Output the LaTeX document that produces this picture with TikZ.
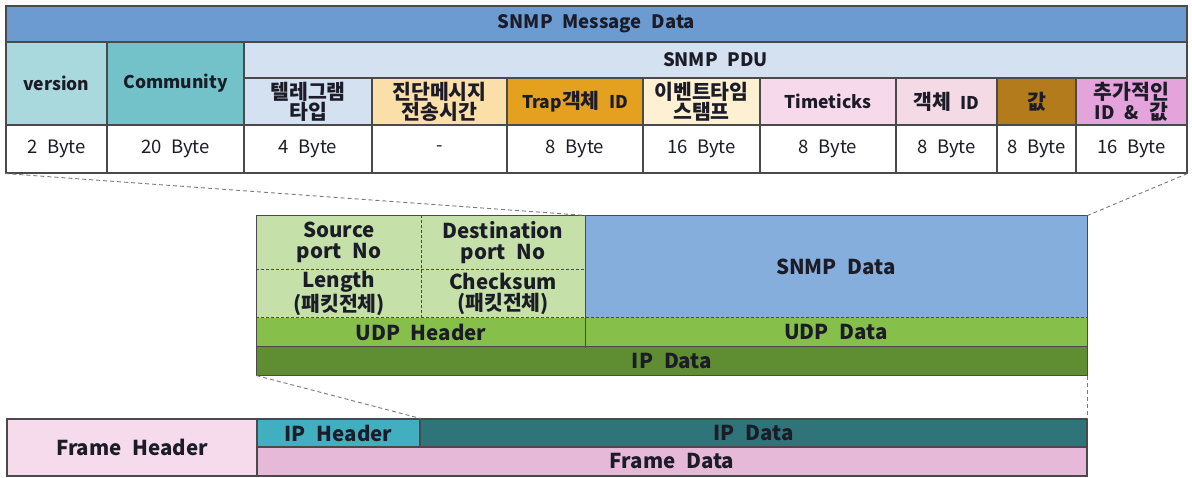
\documentclass[tikz,border=0pt]{standalone}
\usepackage{fontspec}
\setmainfont[WordSpace=2.3]{Noto Sans CJK KR}
\usetikzlibrary{calc}
\definecolor{titleblue}{HTML}{6B9BD1}
\definecolor{pdublue}{HTML}{D4E1F1}
\definecolor{vercol}{HTML}{A9D9DD}
\definecolor{comcol}{HTML}{73C2C9}
\definecolor{telcol}{HTML}{D4E1F1}
\definecolor{diagcol}{HTML}{FBDFA8}
\definecolor{trapcol}{HTML}{E4A11F}
\definecolor{evtcol}{HTML}{FDF0D3}
\definecolor{tickcol}{HTML}{F6DAEC}
\definecolor{objcol}{HTML}{F3DAE4}
\definecolor{valcol}{HTML}{B37B1B}
\definecolor{addcol}{HTML}{E4A3DA}
\definecolor{udphl}{HTML}{C5E1A9}
\definecolor{snmpd}{HTML}{86AEDC}
\definecolor{udpg}{HTML}{86C04B}
\definecolor{ipg}{HTML}{5F8D31}
\definecolor{framehd}{HTML}{F5DBEB}
\definecolor{iph}{HTML}{42AFC1}
\definecolor{ipdt}{HTML}{2F7479}
\definecolor{framed}{HTML}{E7B9D9}
\definecolor{linegray}{HTML}{4A4A4A}
\definecolor{dashgray}{HTML}{7A7A7A}
\definecolor{txt}{HTML}{1C1C28}
\newcommand\cellbox[8][]{%
  \node[cellst,#1,fill=#7,minimum width={(#4-#2)*1pt},minimum height={(#5-#3)*1pt}]
    (#6) at ({(#2+#4)/2},{(#3+#5)/2}) {#8};}
\newcommand\hk[1]{{\fontsize{20.5}{20}\selectfont #1}}
\begin{document}
\begin{tikzpicture}[x=1pt,y=-1pt,
  cellst/.style={draw=linegray,line width=1.1pt,inner sep=0pt,align=center,text=txt,
     font=\fontsize{17.5}{18.5}\selectfont\bfseries},
  krst/.style={font=\fontsize{20.5}{20}\selectfont\bfseries},
  titst/.style={font=\fontsize{18.5}{19}\selectfont\bfseries},
  valst/.style={font=\fontsize{18.5}{19}\selectfont},
  midst/.style={font=\fontsize{20.5}{21}\selectfont\bfseries},
  nob/.style={draw=none},
  divline/.style={draw=linegray,line width=1.1pt},
  dashdiv/.style={draw=linegray,line width=0.9pt,dash pattern=on 3pt off 2pt},
  zoomline/.style={draw=dashgray,line width=0.9pt,dash pattern=on 4pt off 3pt}]
\useasboundingbox[fill=white] (0,0) rectangle (1192,477);
% ---------- top table ----------
\cellbox[titst]{6}{6}{1187}{42}{title}{titleblue}{SNMP Message Data}
\cellbox{6}{42}{107}{125}{ver}{vercol}{version}
\cellbox{107}{42}{244}{125}{com}{comcol}{Community}
\cellbox[titst]{244}{42}{1187}{78}{pdu}{pdublue}{SNMP PDU}
\cellbox[krst]{244}{78}{372}{125}{h1}{telcol}{텔레그램\\타입}
\cellbox[krst]{372}{78}{507}{125}{h2}{diagcol}{진단메시지\\전송시간}
\cellbox{507}{78}{643}{125}{h3}{trapcol}{Trap\hk{객체} ID}
\cellbox[krst]{643}{78}{760}{125}{h4}{evtcol}{이벤트타임\\스탬프}
\cellbox{760}{78}{896}{125}{h5}{tickcol}{Timeticks}
\cellbox{896}{78}{997}{125}{h6}{objcol}{\hk{객체} ID}
\cellbox[krst]{997}{78}{1076}{125}{h7}{valcol}{값}
\cellbox[krst]{1076}{78}{1187}{125}{h8}{addcol}{추가적인\\{\fontsize{18.5}{20}\selectfont ID \&} 값}
\cellbox[valst]{6}{125}{107}{173}{v1}{white}{2 Byte}
\cellbox[valst]{107}{125}{244}{173}{v2}{white}{20 Byte}
\cellbox[valst]{244}{125}{372}{173}{v3}{white}{4 Byte}
\cellbox[valst]{372}{125}{507}{173}{v4}{white}{-}
\cellbox[valst]{507}{125}{643}{173}{v5}{white}{8 Byte}
\cellbox[valst]{643}{125}{760}{173}{v6}{white}{16 Byte}
\cellbox[valst]{760}{125}{896}{173}{v7}{white}{8 Byte}
\cellbox[valst]{896}{125}{997}{173}{v8}{white}{8 Byte}
\cellbox[valst]{997}{125}{1076}{173}{v9}{white}{8 Byte}
\cellbox[valst]{1076}{125}{1187}{173}{v10}{white}{16 Byte}
% ---------- middle (UDP) ----------
\cellbox[midst,nob]{257}{216}{421}{269}{srcp}{udphl}{Source\\port No}
\cellbox[midst,nob]{421}{216}{585}{269}{dstp}{udphl}{Destination\\port No}
\cellbox[midst,nob]{257}{269}{421}{318}{lenf}{udphl}{Length\\(패킷전체)}
\cellbox[midst,nob]{421}{269}{585}{318}{chkf}{udphl}{Checksum\\(패킷전체)}
\cellbox[midst,nob]{585}{216}{1087}{318}{snmpd}{snmpd}{SNMP Data}
\cellbox[midst,nob]{257}{318}{585}{347}{udph}{udpg}{UDP Header}
\cellbox[midst,nob]{585}{318}{1087}{347}{udpd}{udpg}{UDP Data}
\cellbox[midst,nob]{257}{347}{1087}{375}{ipdm}{ipg}{IP Data}
\draw[dashdiv] (srcp.north east) -- (lenf.south east);
\draw[dashdiv] (srcp.south west) -- (dstp.south east);
\draw[dashdiv] (udph.north west) -- (udpd.north east);
\draw[divline] (dstp.north east) -- (udph.south east);
\draw[divline] (ipdm.north west) -- (ipdm.north east);
\draw[divline] (srcp.north west) rectangle (ipdm.south east);
% ---------- bottom (frame) ----------
\cellbox[midst]{7}{419}{257}{476}{frh}{framehd}{Frame Header}
\cellbox[midst]{257}{419}{420}{447}{iphd}{iph}{IP Header}
\cellbox[midst]{420}{419}{1087}{447}{ipdb}{ipdt}{IP Data}
\cellbox[midst]{257}{447}{1087}{476}{frd}{framed}{Frame Data}
% ---------- zoom connectors ----------
\draw[zoomline] (v1.south west) -- (dstp.north east);
\draw[zoomline] (v10.south east) -- (snmpd.north east);
\draw[zoomline] (ipdm.south west) -- (iphd.north east);
\draw[zoomline] (ipdm.south east) -- (ipdb.north east);
\end{tikzpicture}
\end{document}
